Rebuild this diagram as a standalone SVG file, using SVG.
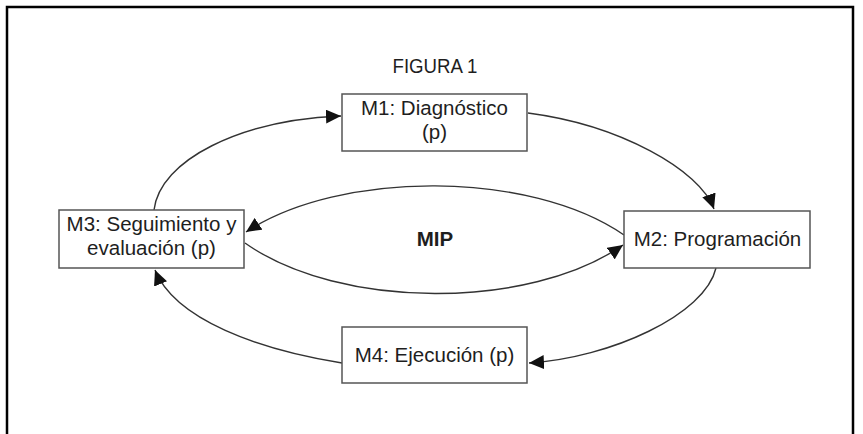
<svg xmlns="http://www.w3.org/2000/svg" width="863" height="434" viewBox="0 0 863 434">
<defs>
<style>
.box{fill:#fff;stroke:#555;stroke-width:1.5}
.t{font-family:"Liberation Sans",Arial,sans-serif;font-size:20.5px;fill:#1e1e1e;text-anchor:middle}
.b{font-weight:bold}
.c{fill:none;stroke:#333;stroke-width:1.4}
</style>
<marker id="ah" markerUnits="userSpaceOnUse" markerWidth="16" markerHeight="14" viewBox="0 0 16 14" refX="15" refY="7" orient="auto">
<path d="M0,0 L15,7 L0,14 z" fill="#111"/>
</marker>
</defs>
<rect width="863" height="434" fill="#fff"/>
<path d="M7,434 V7 H853 V434" fill="none" stroke="#000" stroke-width="2.5"/>
<text class="t" x="435" y="73" textLength="85" lengthAdjust="spacingAndGlyphs">FIGURA 1</text>
<g id="connectors">
<path class="c" d="M154,210 C160,160 240,120 341,116" marker-end="url(#ah)"/>
<path class="c" d="M528,113 C620,125 700,170 714,209" marker-end="url(#ah)"/>
<path class="c" d="M716,268 C705,315 610,358 529,363" marker-end="url(#ah)"/>
<path class="c" d="M342,363 C260,350 175,320 155,270" marker-end="url(#ah)"/>
<path class="c" d="M624,235 C530,170 340,170 246,232" marker-end="url(#ah)"/>
<path class="c" d="M245,243 C340,310 530,310 623,245" marker-end="url(#ah)"/>
</g>
<g id="m1">
<rect class="box" x="342" y="94" width="185" height="57"/>
<text class="t" x="434.5" y="115">M1: Diagnóstico<tspan x="434.5" dy="24">(p)</tspan></text>
</g>
<g id="m2">
<rect class="box" x="624" y="211" width="186" height="57"/>
<text class="t" x="717.5" y="246">M2: Programación</text>
</g>
<g id="m3">
<rect class="box" x="59" y="210" width="185" height="58"/>
<text class="t" x="151.5" y="231">M3: Seguimiento y<tspan x="151.5" dy="23.5">evaluación (p)</tspan></text>
</g>
<g id="m4">
<rect class="box" x="342" y="327" width="185" height="56"/>
<text class="t" x="434.5" y="362">M4: Ejecución (p)</text>
</g>
<g id="mip">
<text class="t b" x="435" y="246">MIP</text>
</g>
</svg>
